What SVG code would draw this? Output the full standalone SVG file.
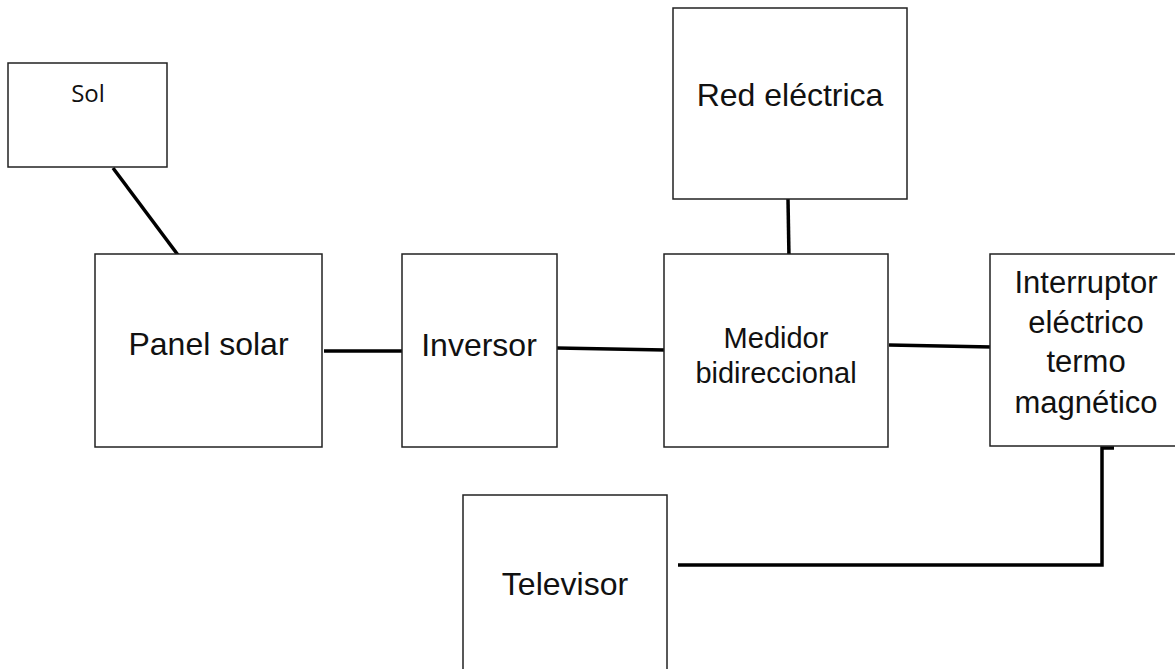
<svg xmlns="http://www.w3.org/2000/svg" width="1175" height="669" viewBox="0 0 1175 669">
<style>
.box{fill:#fff;stroke:#222;stroke-width:1.5}
.t{font-family:"Liberation Sans",Arial,sans-serif;font-size:32px;fill:#111;text-anchor:middle}
.s{font-family:"Open Sans","Noto Sans",sans-serif;font-size:24px;fill:#111;text-anchor:middle}
.c{fill:none;stroke:#000;stroke-width:3.5}
</style>
<rect width="1175" height="669" fill="#fff"/>
<g id="connectors">
<line class="c" x1="113" y1="168" x2="178" y2="255"/>
<line class="c" x1="324" y1="351" x2="403" y2="351"/>
<line class="c" x1="557" y1="348" x2="665" y2="350"/>
<line class="c" x1="788" y1="199" x2="789" y2="258"/>
<line class="c" x1="889" y1="345" x2="992" y2="347"/>
<polyline class="c" points="678,565 1102,565 1102,448 1114,448"/>
</g>
<g id="sol"><rect class="box" x="8" y="63" width="159" height="104"/><text class="s" x="88" y="102">Sol</text></g>
<g id="panel"><rect class="box" x="95" y="254" width="227" height="193"/><text class="t" x="208.5" y="355">Panel solar</text></g>
<g id="inversor"><rect class="box" x="402" y="254" width="155" height="193"/><text class="t" x="479" y="356">Inversor</text></g>
<g id="red"><rect class="box" x="673" y="8" width="234" height="191"/><text class="t" x="790" y="106">Red eléctrica</text></g>
<g id="medidor"><rect class="box" x="664" y="254" width="224" height="193"/><text class="t" style="font-size:29px" x="776" y="348">Medidor</text><text class="t" style="font-size:29px" x="776" y="383">bidireccional</text></g>
<g id="interruptor"><rect class="box" x="990" y="254" width="195" height="192"/><text class="t" style="font-size:31px" x="1086" y="293">Interruptor</text><text class="t" style="font-size:31px" x="1086" y="333">eléctrico</text><text class="t" style="font-size:31px" x="1086" y="372">termo</text><text class="t" style="font-size:31px" x="1086" y="413">magnético</text></g>
<g id="televisor"><rect class="box" x="463" y="495" width="204" height="190"/><text class="t" x="565" y="595">Televisor</text></g>
</svg>
